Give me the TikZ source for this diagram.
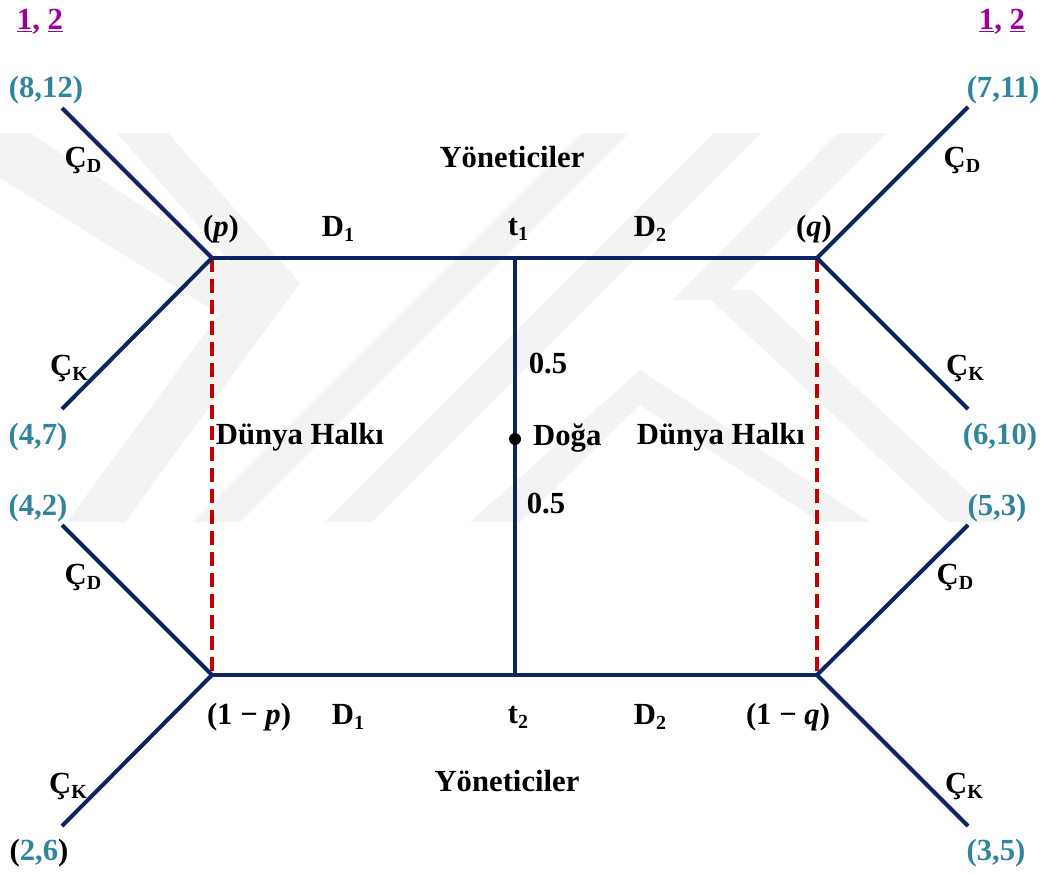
\documentclass[tikz,border=0pt]{standalone}
\usepackage{fontspec}
\setmainfont{Liberation Serif}
\definecolor{navy}{HTML}{0E2461}
\definecolor{dred}{HTML}{C00000}
\definecolor{teal}{HTML}{31849B}
\definecolor{purp}{HTML}{990099}
\definecolor{wm}{HTML}{F3F3F3}
\newcommand{\sbx}[1]{\raisebox{-0.17em}{\fontsize{20}{20}\selectfont #1}}
\newcommand{\mvar}[1]{\textit{#1}}
\tikzset{
  lbl/.style={font=\fontsize{30.7}{36}\selectfont\bfseries, inner sep=0pt, text=black},
  pay/.style={lbl, text=teal},
  branch/.style={draw=navy, line width=4pt},
  info/.style={draw=dred, line width=3.5pt, dash pattern=on 14pt off 7pt},
  wmark/.style={fill=wm, draw=none}
}
\begin{document}
\begin{tikzpicture}[x=1pt,y=-1pt]
\useasboundingbox (0,0) rectangle (1047,875);
% watermark (faint)
\fill[wmark] (0,133) -- (30,133) -- (275,293) -- (245,330) -- (0,178) -- cycle;
\fill[wmark] (117,133) -- (168,133) -- (300,283) -- (125,522) -- (67,522) -- (245,279) -- cycle;
\fill[wmark] (193,522) -- (240,522) -- (629,133) -- (582,133) -- cycle;
\fill[wmark] (325,522) -- (372,522) -- (761,133) -- (714,133) -- cycle;
\fill[wmark] (838,133) -- (887,133) -- (720,300) -- (673,300) -- cycle;
\fill[wmark] (700,290) -- (752,290) -- (1000,522) -- (948,522) -- cycle;
\fill[wmark] (640,370) -- (870,522) -- (820,522) -- (640,405) -- (520,522) -- (470,522) -- cycle;

% coordinates
\coordinate (P) at (212,258);
\coordinate (Q) at (817,258);
\coordinate (P2) at (212,675);
\coordinate (Q2) at (817,675);
\coordinate (T1) at (515,258);
\coordinate (T2) at (515,675);
\coordinate (N) at (515,439);
\coordinate (a1) at (62,108);
\coordinate (a2) at (62,409);
\coordinate (a3) at (968,107);
\coordinate (a4) at (968,409);
\coordinate (b1) at (62,525);
\coordinate (b2) at (62,826);
\coordinate (b3) at (968,525);
\coordinate (b4) at (968,826);

% information sets
\draw[info] (P) -- (P2);
\draw[info] (Q) -- (Q2);

% tree
\draw[branch] (P) -- (Q);
\draw[branch] (P2) -- (Q2);
\draw[draw=navy, line width=3.5pt] (T1) -- (T2);
\draw[branch] (a1) -- (P) -- (a2);
\draw[branch] (a3) -- (Q) -- (a4);
\draw[branch] (b1) -- (P2) -- (b2);
\draw[branch] (b3) -- (Q2) -- (b4);
\fill[black] (N) circle [radius=6];

% labels
\node[lbl, text=purp] (n1) at (40,22) {\underline{1}, \underline{2}};
\node[lbl, text=purp] (n2) at (1002,22) {\underline{1}, \underline{2}};
\node[pay] (u1) at (46,90) {(8,12)};
\node[pay] (u2) at (1003,90) {(7,11)};
\node[pay] (u3) at (38,437) {(4,7)};
\node[pay] (u4) at (1000,437) {(6,10)};
\node[pay] (u5) at (38,508) {(4,2)};
\node[pay] (u6) at (997,508) {(5,3)};
\node[lbl] (u7) at (39,853) {(\textcolor{teal}{2,6})};
\node[pay] (u8) at (996,853) {(3,5)};

\node[lbl] (c1) at (83,160) {Ç\sbx{D}};
\node[lbl] (c2) at (962,160) {Ç\sbx{D}};
\node[lbl] (c3) at (69,368) {Ç\sbx{K}};
\node[lbl] (c4) at (965,368) {Ç\sbx{K}};
\node[lbl] (c5) at (83,577) {Ç\sbx{D}};
\node[lbl] (c6) at (955,577) {Ç\sbx{D}};
\node[lbl] (c7) at (68,786) {Ç\sbx{K}};
\node[lbl] (c8) at (964,786) {Ç\sbx{K}};

\node[lbl] (y1) at (512,157) {Yöneticiler};
\node[lbl] (y2) at (507,781) {Yöneticiler};
\node[lbl] (pp) at (221,229) {(\mvar{p})};
\node[lbl] (qq) at (814,229) {(\mvar{q})};
\node[lbl] (d1) at (338,229) {D\sbx{1}};
\node[lbl] (t1) at (518,229) {t\sbx{1}};
\node[lbl] (d2) at (650,229) {D\sbx{2}};
\node[lbl] (pm) at (249,717) {(1 − \mvar{p})};
\node[lbl] (d3) at (348,717) {D\sbx{1}};
\node[lbl] (t2) at (518,717) {t\sbx{2}};
\node[lbl] (d4) at (650,717) {D\sbx{2}};
\node[lbl] (qm) at (788,717) {(1 − \mvar{q})};

\node[lbl] (h1) at (300,437) {Dünya Halkı};
\node[lbl] (h2) at (721,437) {Dünya Halkı};
\node[lbl, anchor=west] (dg) at (533,438) {Doğa};
\node[lbl] (o1) at (548,364) {0.5};
\node[lbl] (o2) at (546,504) {0.5};
\end{tikzpicture}
\end{document}
